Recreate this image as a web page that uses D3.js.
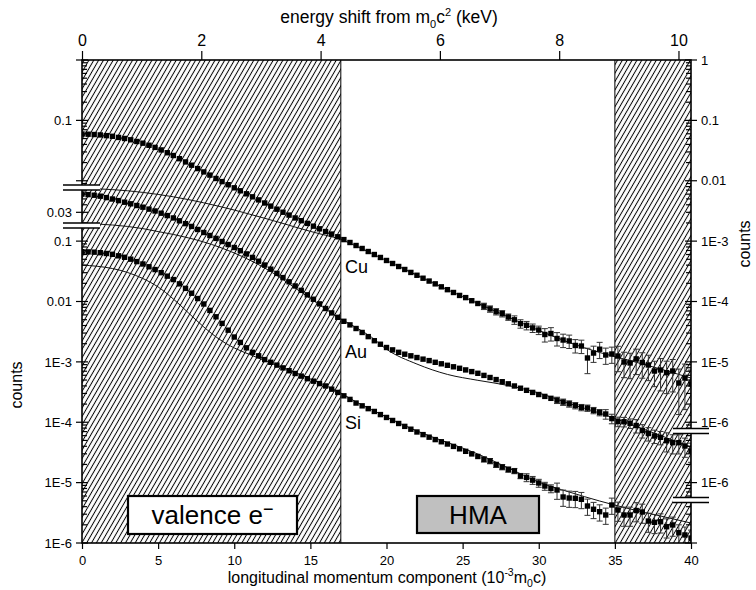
<!DOCTYPE html>
<html>
<head>
<meta charset="utf-8">
<script src="https://cdn.jsdelivr.net/npm/d3@7"></script>
<style>
  body { margin: 0; background: #fff; }
  svg { display: block; font-family: "Liberation Sans", Arial, sans-serif; }
</style>
</head>
<body>
<svg width="756" height="590"></svg>
<script>
// longitudinal momentum of each channel (10^-3 m0c)
const momentum = [0,0.4,0.8,1.2,1.6,2,2.4,2.8,3.2,3.6,4,4.4,4.8,5.2,5.6,6,6.4,6.8,7.2,7.6,
  8,8.4,8.8,9.2,9.6,10,10.4,10.8,11.2,11.6,12,12.4,12.8,13.2,13.6,14,14.4,14.8,15.2,15.6,
  16,16.4,16.8,17.2,17.6,18,18.4,18.8,19.2,19.6,20,20.4,20.8,21.2,21.6,22,22.4,22.8,23.2,23.6,
  24,24.4,24.8,25.2,25.6,26,26.4,26.8,27.2,27.6,28,28.4,28.8,29.2,29.6,30,30.4,30.8,31.2,31.6,
  32,32.4,32.8,33.2,33.6,34,34.4,34.8,35.2,35.6,36,36.4,36.8,37.2,37.6,38,38.4,38.8,39.2,39.6,40];

const cuCounts = [5.95e-2,5.90e-2,5.83e-2,5.74e-2,5.59e-2,5.45e-2,5.22e-2,5.01e-2,4.77e-2,4.47e-2,
  4.19e-2,3.87e-2,3.57e-2,3.24e-2,2.91e-2,2.62e-2,2.32e-2,2.05e-2,1.81e-2,1.59e-2,
  1.40e-2,1.24e-2,1.09e-2,9.68e-3,8.60e-3,7.64e-3,6.82e-3,6.08e-3,5.42e-3,4.82e-3,
  4.28e-3,3.80e-3,3.38e-3,3.01e-3,2.70e-3,2.42e-3,2.18e-3,1.97e-3,1.77e-3,1.60e-3,
  1.44e-3,1.31e-3,1.18e-3,1.06e-3,9.49e-4,8.46e-4,7.55e-4,6.73e-4,6.00e-4,5.36e-4,
  4.78e-4,4.26e-4,3.80e-4,3.39e-4,3.03e-4,2.72e-4,2.43e-4,2.18e-4,1.96e-4,1.75e-4,
  1.57e-4,1.41e-4,1.26e-4,1.16e-4,1.03e-4,9.27e-5,8.36e-5,7.54e-5,6.80e-5,6.30e-5,
  5.54e-5,4.98e-5,4.30e-5,4.03e-5,3.65e-5,3.37e-5,2.84e-5,2.95e-5,2.44e-5,2.30e-5,
  2.22e-5,1.87e-5,1.83e-5,1.16e-5,1.40e-5,1.62e-5,1.30e-5,1.35e-5,1.25e-5,9.95e-6,
  9.58e-6,1.12e-5,9.76e-6,8.88e-6,7.06e-6,7.33e-6,6.62e-6,7.06e-6,4.47e-6,5.40e-6,4.30e-6];

const auCounts = [6.03e-2,5.90e-2,5.76e-2,5.55e-2,5.26e-2,4.98e-2,4.69e-2,4.41e-2,4.15e-2,3.89e-2,
  3.65e-2,3.39e-2,3.16e-2,2.90e-2,2.65e-2,2.42e-2,2.17e-2,1.95e-2,1.75e-2,1.56e-2,
  1.39e-2,1.24e-2,1.11e-2,9.86e-3,8.79e-3,7.84e-3,6.94e-3,6.14e-3,5.37e-3,4.65e-3,
  4.02e-3,3.43e-3,2.92e-3,2.49e-3,2.12e-3,1.81e-3,1.53e-3,1.29e-3,1.09e-3,9.13e-4,
  7.66e-4,6.47e-4,5.47e-4,4.70e-4,4.10e-4,3.57e-4,3.07e-4,2.62e-4,2.24e-4,1.96e-4,
  1.73e-4,1.58e-4,1.44e-4,1.34e-4,1.26e-4,1.18e-4,1.11e-4,1.05e-4,9.84e-5,9.29e-5,
  8.78e-5,8.29e-5,7.83e-5,7.36e-5,6.90e-5,6.47e-5,5.97e-5,5.51e-5,5.09e-5,4.69e-5,
  4.33e-5,3.99e-5,3.66e-5,3.38e-5,3.12e-5,2.88e-5,2.68e-5,2.49e-5,2.32e-5,2.16e-5,
  2.02e-5,1.89e-5,1.76e-5,1.72e-5,1.57e-5,1.45e-5,1.37e-5,1.15e-5,1.03e-5,1.02e-5,
  9.61e-6,8.84e-6,7.30e-6,6.51e-6,5.92e-6,5.63e-6,4.95e-6,4.59e-6,4.59e-6,4.04e-6,3.34e-6];

const siCounts = [6.68e-2,6.63e-2,6.56e-2,6.43e-2,6.24e-2,6.05e-2,5.71e-2,5.40e-2,5.02e-2,4.58e-2,
  4.18e-2,3.76e-2,3.38e-2,3.00e-2,2.63e-2,2.31e-2,1.96e-2,1.65e-2,1.37e-2,1.12e-2,
  9.09e-3,7.12e-3,5.58e-3,4.34e-3,3.35e-3,2.58e-3,2.10e-3,1.71e-3,1.44e-3,1.26e-3,
  1.09e-3,9.84e-4,8.84e-4,7.95e-4,7.14e-4,6.42e-4,5.81e-4,5.27e-4,4.79e-4,4.37e-4,
  3.99e-4,3.53e-4,3.12e-4,2.74e-4,2.39e-4,2.08e-4,1.87e-4,1.68e-4,1.51e-4,1.34e-4,
  1.20e-4,1.07e-4,9.54e-5,8.54e-5,7.67e-5,6.90e-5,6.24e-5,5.66e-5,5.16e-5,4.75e-5,
  4.36e-5,3.98e-5,3.63e-5,3.30e-5,2.99e-5,2.71e-5,2.43e-5,2.28e-5,1.98e-5,1.81e-5,
  1.65e-5,1.56e-5,1.29e-5,1.22e-5,1.10e-5,9.86e-6,8.79e-6,7.99e-6,7.55e-6,5.78e-6,
  5.56e-6,5.50e-6,5.29e-6,4.10e-6,3.62e-6,3.30e-6,2.91e-6,4.26e-6,3.52e-6,2.91e-6,
  2.91e-6,3.45e-6,3.26e-6,2.31e-6,2.20e-6,2.25e-6,1.86e-6,1.99e-6,1.48e-6,1.36e-6,1.21e-6];

// relative errors of the counts
const cuErr = [0.02,0.02,0.02,0.02,0.02,0.02,0.02,0.02,0.02,0.02,0.02,0.02,0.02,0.02,0.02,0.02,0.02,0.02,0.02,0.02,
  0.02,0.02,0.02,0.02,0.02,0.02,0.02,0.02,0.02,0.02,0.02,0.02,0.02,0.02,0.02,0.02,0.02,0.02,0.02,0.02,
  0.02,0.03,0.03,0.03,0.03,0.03,0.03,0.03,0.03,0.03,0.03,0.05,0.05,0.05,0.05,0.05,0.05,0.05,0.05,0.05,
  0.05,0.08,0.08,0.08,0.08,0.08,0.12,0.12,0.12,0.12,0.12,0.16,0.16,0.16,0.16,0.16,0.25,0.25,0.25,0.25,
  0.25,0.25,0.25,0.45,0.3,0.3,0.3,0.3,0.45,0.45,0.45,0.45,0.45,0.45,0.45,0.55,0.55,0.55,0.7,0.7,0.7];

const auErr = [0.02,0.02,0.02,0.02,0.02,0.02,0.02,0.02,0.02,0.02,0.02,0.02,0.02,0.02,0.02,0.02,0.02,0.02,0.02,0.02,
  0.02,0.02,0.02,0.02,0.02,0.02,0.02,0.02,0.02,0.02,0.02,0.02,0.02,0.02,0.02,0.02,0.02,0.02,0.02,0.02,
  0.02,0.02,0.02,0.02,0.02,0.02,0.02,0.02,0.02,0.02,0.02,0.02,0.02,0.02,0.02,0.02,0.02,0.02,0.02,0.02,
  0.02,0.05,0.05,0.05,0.05,0.05,0.05,0.05,0.05,0.05,0.05,0.08,0.08,0.08,0.08,0.08,0.08,0.08,0.12,0.12,
  0.12,0.12,0.12,0.12,0.12,0.12,0.18,0.18,0.18,0.18,0.18,0.25,0.25,0.25,0.25,0.25,0.35,0.35,0.35,0.35,0.35];

const siErr = [0.02,0.02,0.02,0.02,0.02,0.02,0.02,0.02,0.02,0.02,0.02,0.02,0.02,0.02,0.02,0.02,0.02,0.02,0.02,0.02,
  0.02,0.02,0.02,0.02,0.02,0.02,0.02,0.02,0.02,0.02,0.02,0.02,0.02,0.02,0.02,0.02,0.02,0.02,0.02,0.02,
  0.02,0.02,0.02,0.02,0.02,0.02,0.02,0.02,0.02,0.02,0.02,0.02,0.02,0.02,0.02,0.02,0.05,0.05,0.05,0.05,
  0.05,0.05,0.05,0.05,0.05,0.05,0.1,0.1,0.1,0.1,0.1,0.1,0.1,0.15,0.15,0.15,0.15,0.15,0.3,0.3,
  0.3,0.3,0.3,0.3,0.3,0.3,0.3,0.3,0.35,0.35,0.35,0.35,0.35,0.35,0.35,0.35,0.35,0.35,0.35,0.35,0.35];

// HMA calculation (thin lines)
const fitMomentum = [0,1,2,3,4,5,6,7,8,9,10,11,12,13,14,15,16,17,18,19,20,22,24,26,28,30,32,34,36,38,40];
const cuFit = [7.44e-3,7.35e-3,7.13e-3,6.82e-3,6.41e-3,5.94e-3,5.42e-3,4.87e-3,4.31e-3,3.77e-3,
  3.27e-3,2.80e-3,2.39e-3,2.03e-3,1.71e-3,1.45e-3,1.25e-3,1.07e-3,8.30e-4,6.31e-4,
  4.76e-4,2.73e-4,1.57e-4,9.30e-5,5.54e-5,3.33e-5,2.09e-5,1.43e-5,1.05e-5,7.62e-6,5.40e-6];
const auFit = [1.96e-2,1.92e-2,1.85e-2,1.75e-2,1.61e-2,1.44e-2,1.29e-2,1.13e-2,9.67e-3,7.99e-3,
  6.36e-3,4.87e-3,3.59e-3,2.50e-3,1.67e-3,1.12e-3,7.51e-4,5.13e-4,3.71e-4,2.58e-4,
  1.62e-4,9.20e-5,6.20e-5,4.95e-5,4.06e-5,3.05e-5,2.04e-5,1.42e-5,9.35e-6,6.03e-6,3.89e-6];
const siFit = [4.02e-2,3.83e-2,3.52e-2,3.02e-2,2.40e-2,1.74e-2,1.10e-2,6.45e-3,3.78e-3,2.39e-3,
  1.70e-3,1.33e-3,1.05e-3,8.39e-4,6.67e-4,5.21e-4,4.06e-4,3.05e-4,2.17e-4,1.63e-4,
  1.22e-4,7.16e-5,4.62e-5,2.98e-5,1.75e-5,1.02e-5,6.99e-6,4.96e-6,3.66e-6,2.80e-6,2.14e-6];

const bottomTicks = [0, 5, 10, 15, 20, 25, 30, 35, 40];
const topTicks = [0, 2, 4, 6, 8, 10];
const keVMax = 10.21;
const valenceEnd = 17;
const hmaEnd = 35;

const svg = d3.select("svg");
const plotLeft = 82, plotRight = 691, plotTop = 60, plotBottom = 543;

const x = d3.scaleLinear().domain([0, 40]).range([plotLeft, plotRight]);
const xTop = d3.scaleLinear().domain([0, keVMax]).range([plotLeft, plotRight]);

// each spectrum has its own log scale, offset by one decade
const yCu = d3.scaleLog().domain([1e-8, 1]).range([plotBottom, plotTop]);
const yAu = d3.scaleLog().domain([1e-7, 10]).range([plotBottom, plotTop]);
const ySi = d3.scaleLog().domain([1e-6, 100]).range([plotBottom, plotTop]);

const defs = svg.append("defs");
defs
  .append("pattern")
  .attr("id", "hatch")
  .attr("patternUnits", "userSpaceOnUse")
  .attr("width", 4.2)
  .attr("height", 10)
  .attr("patternTransform", "rotate(30)")
  .append("line")
  .attr("x1", 2.1)
  .attr("x2", 2.1)
  .attr("y1", 0)
  .attr("y2", 10)
  .attr("stroke", "#000")
  .attr("stroke-width", 1);

defs
  .append("clipPath")
  .attr("id", "plot")
  .append("rect")
  .attr("x", plotLeft)
  .attr("y", plotTop)
  .attr("width", plotRight - plotLeft)
  .attr("height", plotBottom - plotTop);

// hatched regions
svg
  .selectAll("rect.hatch")
  .data([[0, valenceEnd], [hmaEnd, 40]])
  .enter()
  .append("rect")
  .attr("class", "hatch")
  .attr("x", (d) => x(d[0]))
  .attr("y", plotTop)
  .attr("width", (d) => x(d[1]) - x(d[0]))
  .attr("height", plotBottom - plotTop)
  .attr("fill", "url(#hatch)");

svg
  .selectAll("line.border")
  .data([valenceEnd, hmaEnd])
  .enter()
  .append("line")
  .attr("x1", (d) => x(d))
  .attr("x2", (d) => x(d))
  .attr("y1", plotTop)
  .attr("y2", plotBottom)
  .attr("stroke", "#000")
  .attr("stroke-width", 1);

const series = [
  { counts: cuCounts, err: cuErr, fit: cuFit, y: yCu },
  { counts: auCounts, err: auErr, fit: auFit, y: yAu },
  { counts: siCounts, err: siErr, fit: siFit, y: ySi },
];

const g = svg.append("g").attr("clip-path", "url(#plot)");

series.forEach((s) => {
  const line = d3
    .line()
    .x((d, i) => x(fitMomentum[i]))
    .y((d) => s.y(d))
    .curve(d3.curveMonotoneX);

  g.append("path")
    .attr("d", line(s.fit))
    .attr("fill", "none")
    .attr("stroke", "#111")
    .attr("stroke-width", 1);

  const pts = s.counts.map((v, i) => ({
    p: momentum[i],
    v: v,
    hi: v * (1 + s.err[i]),
    lo: v * (1 - s.err[i]),
  }));

  const bars = g.append("g").attr("stroke", "#333").attr("stroke-width", 1);
  bars
    .selectAll("line")
    .data(pts)
    .enter()
    .append("line")
    .attr("x1", (d) => x(d.p))
    .attr("x2", (d) => x(d.p))
    .attr("y1", (d) => s.y(d.hi))
    .attr("y2", (d) => s.y(d.lo));

  const capped = pts.filter((d) => s.y(d.lo) - s.y(d.hi) > 5);
  ["hi", "lo"].forEach((k) => {
    bars
      .selectAll("line.cap-" + k)
      .data(capped)
      .enter()
      .append("line")
      .attr("class", "cap-" + k)
      .attr("x1", (d) => x(d.p) - 3)
      .attr("x2", (d) => x(d.p) + 3)
      .attr("y1", (d) => s.y(d[k]))
      .attr("y2", (d) => s.y(d[k]));
  });

  g.append("g")
    .selectAll("rect")
    .data(pts)
    .enter()
    .append("rect")
    .attr("x", (d) => x(d.p) - 2.7)
    .attr("y", (d) => s.y(d.v) - 2.7)
    .attr("width", 5.4)
    .attr("height", 5.4)
    .attr("fill", "#000");
});

// frame
svg
  .append("rect")
  .attr("x", plotLeft)
  .attr("y", plotTop)
  .attr("width", plotRight - plotLeft)
  .attr("height", plotBottom - plotTop)
  .attr("fill", "none")
  .attr("stroke", "#000")
  .attr("stroke-width", 1.6);

// bottom axis
const bottomAxis = svg.append("g").attr("transform", `translate(0,${plotBottom})`);
bottomAxis.call(d3.axisBottom(x).tickValues(d3.range(0, 41)).tickSize(4).tickFormat(""));
bottomAxis.call(d3.axisBottom(x).tickValues(bottomTicks).tickSize(6).tickPadding(7));
bottomAxis.selectAll(".domain").remove();
bottomAxis.selectAll("text").attr("font-size", 13).attr("font-family", "Liberation Sans, Arial, sans-serif");

// top axis (energy)
const topAxis = svg.append("g").attr("transform", `translate(0,${plotTop})`);
topAxis.call(d3.axisTop(xTop).tickValues([1, 3, 5, 7, 9]).tickSize(5).tickFormat(""));
topAxis.call(d3.axisTop(xTop).tickValues(topTicks).tickSize(9).tickPadding(5));
topAxis.selectAll(".domain").remove();
topAxis.selectAll("text").attr("font-size", 16).attr("font-family", "Liberation Sans, Arial, sans-serif");
svg.selectAll(".tick line").attr("stroke-width", 1.2);

// broken vertical axes
function fmt(v) {
  return v >= 0.01 ? String(v) : "1E" + Math.round(Math.log10(v));
}

function drawSegment(seg, x0, side) {
  const ticks = seg.scale.ticks().filter((v) => {
    const yy = seg.scale(v);
    return yy >= seg.y0 - 0.5 && yy <= seg.y1 + 0.5;
  });
  const isMajor = (v) =>
    Math.abs(Math.log10(v) - Math.round(Math.log10(v))) < 1e-6 ||
    seg.labels.some((l) => Math.abs(l - v) / l < 1e-6);
  const ax = svg.append("g").attr("stroke", "#000").attr("stroke-width", 1.2);
  ticks.forEach((v) => {
    const yy = seg.scale(v);
    const major = isMajor(v);
    ax.append("line")
      .attr("x1", major ? x0 + side * 6 : x0)
      .attr("x2", major ? x0 - side * 6 : x0 - side * 5)
      .attr("y1", yy)
      .attr("y2", yy);
  });
  svg
    .append("g")
    .selectAll("text")
    .data(seg.labels)
    .enter()
    .append("text")
    .attr("x", x0 + side * 10)
    .attr("y", (d) => seg.scale(d))
    .attr("dy", "0.36em")
    .attr("text-anchor", side < 0 ? "end" : "start")
    .attr("font-size", 13)
    .text(fmt);
}

const leftSegments = [
  { scale: yCu, y0: 60, y1: 185, labels: [0.1] },
  { scale: yAu, y0: 190, y1: 223, labels: [0.03] },
  { scale: ySi, y0: 228, y1: 543, labels: [0.1, 0.01, 1e-3, 1e-4, 1e-5, 1e-6] },
];
const rightSegments = [
  { scale: yCu, y0: 60, y1: 428, labels: [1, 0.1, 0.01, 1e-3, 1e-4, 1e-5, 1e-6] },
  { scale: yAu, y0: 434, y1: 497, labels: [1e-6] },
  { scale: ySi, y0: 503, y1: 543, labels: [] },
];
leftSegments.forEach((s) => drawSegment(s, plotLeft, -1));
rightSegments.forEach((s) => drawSegment(s, plotRight, 1));

// axis break marks
function breakMark(yc, x1, x2) {
  svg
    .append("rect")
    .attr("x", x1)
    .attr("y", yc - 2.5)
    .attr("width", x2 - x1)
    .attr("height", 5)
    .attr("fill", "#fff");
  [yc - 2.5, yc + 2.5].forEach((yy) => {
    svg
      .append("line")
      .attr("x1", x1)
      .attr("x2", x2)
      .attr("y1", yy)
      .attr("y2", yy)
      .attr("stroke", "#000")
      .attr("stroke-width", 1.5);
  });
}
breakMark(187.5, 63, 100);
breakMark(225.5, 63, 100);
breakMark(431, 673, 709);
breakMark(500, 673, 709);

// element labels
[["Cu", 272.5], ["Au", 358], ["Si", 429]].forEach(([t, yy]) => {
  svg.append("text").attr("x", 345).attr("y", yy).attr("font-size", 18).text(t);
});

// region boxes
svg
  .append("rect")
  .attr("x", 128)
  .attr("y", 496)
  .attr("width", 169)
  .attr("height", 38)
  .attr("fill", "#fff")
  .attr("stroke", "#000")
  .attr("stroke-width", 2.2);
const val = svg
  .append("text")
  .attr("x", 212.5)
  .attr("y", 524)
  .attr("text-anchor", "middle")
  .attr("font-size", 26);
val.append("tspan").text("valence e");
val.append("tspan").attr("dy", -9).attr("font-size", 18).text("\u2212");

svg
  .append("rect")
  .attr("x", 417)
  .attr("y", 496)
  .attr("width", 122)
  .attr("height", 37)
  .attr("fill", "#c0c0c0")
  .attr("stroke", "#000")
  .attr("stroke-width", 2.2);
svg
  .append("text")
  .attr("x", 478)
  .attr("y", 524)
  .attr("text-anchor", "middle")
  .attr("font-size", 26)
  .text("HMA");

// axis titles
const topTitle = svg
  .append("text")
  .attr("x", 389)
  .attr("y", 23)
  .attr("text-anchor", "middle")
  .attr("font-size", 17.5);
topTitle.append("tspan").text("energy shift from m");
topTitle.append("tspan").attr("dy", 5).attr("font-size", 11).text("0");
topTitle.append("tspan").attr("dy", -5).text("c");
topTitle.append("tspan").attr("dy", -7).attr("font-size", 11).text("2");
topTitle.append("tspan").attr("dy", 7).text(" (keV)");

const bottomTitle = svg
  .append("text")
  .attr("x", 387)
  .attr("y", 583)
  .attr("text-anchor", "middle")
  .attr("font-size", 16);
bottomTitle.append("tspan").text("longitudinal momentum component (10");
bottomTitle.append("tspan").attr("dy", -7).attr("font-size", 10.5).text("-3");
bottomTitle.append("tspan").attr("dy", 7).text("m");
bottomTitle.append("tspan").attr("dy", 4).attr("font-size", 10.5).text("0");
bottomTitle.append("tspan").attr("dy", -4).text("c)");

svg
  .append("text")
  .attr("transform", "translate(22,385) rotate(-90)")
  .attr("text-anchor", "middle")
  .attr("font-size", 16)
  .text("counts");
svg
  .append("text")
  .attr("transform", "translate(750,244) rotate(-90)")
  .attr("text-anchor", "middle")
  .attr("font-size", 16)
  .text("counts");
</script>
</body>
</html>
